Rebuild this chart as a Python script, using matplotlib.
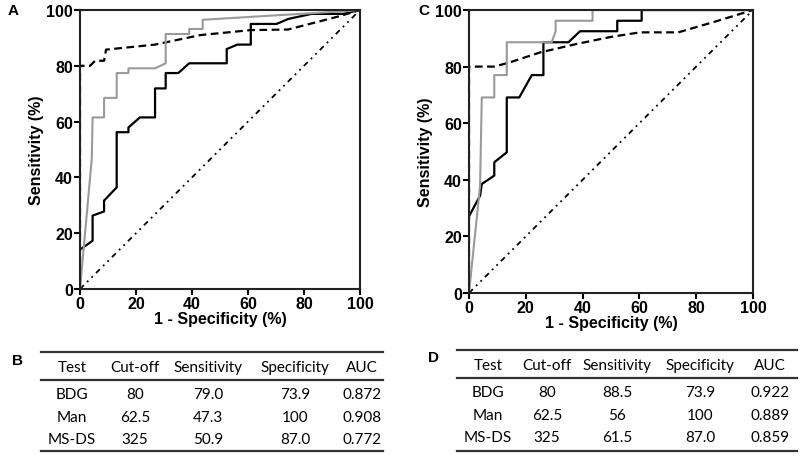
import matplotlib
matplotlib.use("Agg")
import matplotlib.pyplot as plt
from matplotlib.lines import Line2D

# ROC curves, panel A (x = 1 - specificity, y = sensitivity, %)
a_man_x = [0, 4.2, 4.5, 8.6, 8.6, 13.1, 13.1, 17.3, 17.3, 26.8, 30.6, 30.6, 39.0, 39.0, 43.8, 43.8, 95.0, 100]
a_man_y = [0, 46.6, 61.5, 61.5, 68.5, 68.5, 77.4, 77.4, 79.1, 79.1, 80.9, 91.4, 91.4, 93.2, 93.2, 96.5, 99.6, 100]

a_msds_x = [0, 4.5, 4.5, 8.6, 8.6, 13.1, 13.1, 17.3, 17.3, 21.4, 26.8, 26.8, 30.6, 30.6, 35.1, 39.0, 52.4, 52.4,
            56.2, 61.0, 61.0, 70.2, 74.4, 82.7, 94.0, 100]
a_msds_y = [14.1, 17.3, 26.3, 27.8, 31.7, 36.4, 56.2, 56.2, 57.9, 61.5, 61.5, 71.9, 71.9, 77.4, 77.4, 80.9, 80.9, 86.0,
            87.6, 87.6, 95.0, 95.0, 96.8, 98.6, 98.6, 100]

a_bdg_x = [0, 0, 3.6, 5.4, 8.6, 9.3, 26.8, 42.9, 61.0, 74.3, 92.0, 100]
a_bdg_y = [0, 80, 80, 81.8, 81.8, 85.8, 87.6, 91.0, 92.8, 93.0, 97.6, 100]

# ROC curves, panel C
c_man_x = [0, 3.9, 4.5, 8.9, 8.9, 13.3, 13.3, 29.1, 30.5, 30.5, 43.5, 43.5, 100]
c_man_y = [0, 37.9, 69.1, 69.1, 77.0, 77.0, 88.6, 88.6, 92.5, 96.2, 96.2, 100, 100]

c_msds_x = [0, 3.9, 4.5, 8.9, 8.9, 13.3, 13.3, 17.7, 22.1, 26.2, 26.2, 35.0, 39.1, 52.2, 52.2, 60.8, 60.8, 100]
c_msds_y = [27.1, 34.4, 38.5, 41.5, 46.2, 49.7, 69.1, 69.1, 77.0, 77.0, 88.6, 88.6, 92.5, 92.5, 96.2, 96.2, 100, 100]

c_bdg_x = [0, 0, 3.9, 8.9, 14.4, 25.0, 37.9, 50.0, 60.2, 73.7, 87.0, 100]
c_bdg_y = [0, 80, 80, 80, 81.5, 85.0, 88.0, 90.5, 92.1, 92.1, 96.0, 100]

ref_x = [0, 100]
ref_y = [0, 100]

# tables B and D
tbl_header = ["Test", "Cut-off", "Sensitivity", "Specificity", "AUC"]
tests = ["BDG", "Man", "MS-DS"]
cutoffs = ["80", "62.5", "325"]
spec = ["73.9", "100", "87.0"]
sens_b = ["79.0", "47.3", "50.9"]
auc_b = ["0.872", "0.908", "0.772"]
sens_d = ["88.5", "56", "61.5"]
auc_d = ["0.922", "0.889", "0.859"]

W, H = 800, 464
fig = plt.figure(figsize=(8, 4.64), dpi=100)


def px_axes(l, t, r, b):
    return fig.add_axes([l / W, 1 - b / H, (r - l) / W, (b - t) / H])


def roc_panel(ax, man, msds, bdg):
    ax.plot(ref_x, ref_y, color="black", lw=1.3, linestyle=(0, (3, 2.5, 1, 2.5, 1, 2.5)))
    ax.plot(bdg[0], bdg[1], color="black", lw=1.6, linestyle=(0, (3.5, 2)))
    ax.plot(msds[0], msds[1], color="black", lw=1.6)
    ax.plot(man[0], man[1], color="#9a9a9a", lw=1.5)
    ax.set_xlim(0, 100)
    ax.set_ylim(0, 100)
    ax.set_xticks(range(0, 101, 20))
    ax.set_yticks(range(0, 101, 20))
    for s in ax.spines.values():
        s.set_linewidth(1.5)
        s.set_color("#222222")
    ax.tick_params(direction="out", length=4, width=1.5, pad=1, labelsize=11.5)
    for lab in ax.get_xticklabels() + ax.get_yticklabels():
        lab.set_fontweight("bold")
    ax.set_xlabel("1 - Specificity (%)", fontsize=11.5, fontweight="bold", labelpad=0)
    ax.set_ylabel("Sensitivity (%)", fontsize=11.5, fontweight="bold", labelpad=2)


plt.rcParams["font.family"] = ["Liberation Sans", "DejaVu Sans"]

ax_a = px_axes(80, 11, 360, 290)
roc_panel(ax_a, (a_man_x, a_man_y), (a_msds_x, a_msds_y), (a_bdg_x, a_bdg_y))
ax_c = px_axes(469, 11, 753, 294)
roc_panel(ax_c, (c_man_x, c_man_y), (c_msds_x, c_msds_y), (c_bdg_x, c_bdg_y))

fig.text(8 / W, 1 - 11 / H, "A", fontsize=11, fontweight="bold", va="center", ha="left")
fig.text(418 / W, 1 - 11 / H, "C", fontsize=11, fontweight="bold", va="center", ha="left")


def hline(x0, x1, y, lw=1.6):
    fig.add_artist(Line2D([x0 / W, x1 / W], [1 - y / H, 1 - y / H], color="#333333", lw=lw))


def draw_table(x0, x1, cols, top, sens, auc):
    hline(x0, x1, top)
    hline(x0, x1, top + 28)
    hline(x0, x1, 452)
    ys = [top + 15, top + 42, top + 65, top + 87]
    for cx, h in zip(cols, tbl_header):
        fig.text(cx / W, 1 - ys[0] / H, h, ha="center", va="center", fontsize=11, family="Lato")
    for i in range(3):
        row = [tests[i], cutoffs[i], sens[i], spec[i], auc[i]]
        for cx, v in zip(cols, row):
            fig.text(cx / W, 1 - ys[i + 1] / H, v, ha="center", va="center", fontsize=11, family="Lato")


draw_table(41, 383, [72, 135, 208, 295, 362], 353, sens_b, auc_b)
draw_table(457, 797, [488, 547, 617, 700, 770], 351, sens_d, auc_d)

fig.text(12 / W, 1 - 361 / H, "B", fontsize=11, fontweight="bold", va="center", ha="left")
fig.text(428 / W, 1 - 358 / H, "D", fontsize=11, fontweight="bold", va="center", ha="left")

fig.savefig("out.png", dpi=100)
